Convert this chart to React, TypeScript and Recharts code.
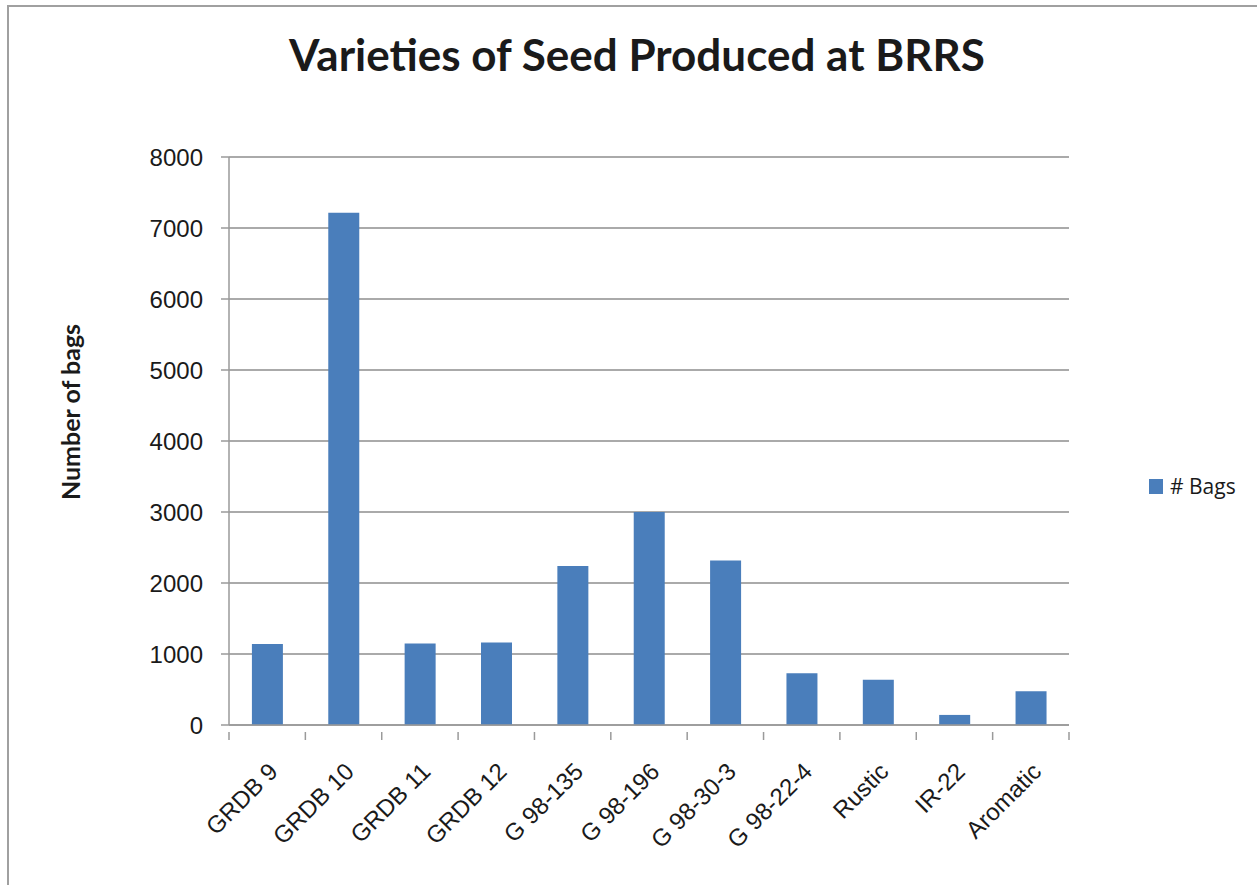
import { BarChart, Bar, XAxis, YAxis, CartesianGrid } from 'recharts';

// ── Data ──────────────────────────────────────────────────────────────────────
const VARIETIES = [
  'GRDB 9',
  'GRDB 10',
  'GRDB 11',
  'GRDB 12',
  'G 98-135',
  'G 98-196',
  'G 98-30-3',
  'G 98-22-4',
  'Rustic',
  'IR-22',
  'Aromatic',
];
const BAGS = [1140, 7215, 1148, 1162, 2238, 3000, 2318, 730, 636, 142, 476];
const Y_TICKS = [0, 1000, 2000, 3000, 4000, 5000, 6000, 7000, 8000];

const data = VARIETIES.map((name, i) => ({ name, bags: BAGS[i] }));

// ── Layout ────────────────────────────────────────────────────────────────────
const W = 1257;
const H = 885;
const PLOT_LEFT = 229;
const PLOT_RIGHT = 1069;
const PLOT_TOP = 157;
const PLOT_BOTTOM = 725;
const HALF_BAND = (PLOT_RIGHT - PLOT_LEFT) / VARIETIES.length / 2;

const BAR_COLOR = '#4a7ebb';
const GRID_COLOR = '#8e8e8e';
const AXIS_COLOR = '#9a9a9a';
const TEXT_COLOR = '#1a1a1a';

// ── Category tick: rotated label + boundary tick marks (Excel style) ─────────
function CategoryTick(props: any) {
  const { x, y, payload, index } = props;
  const isLast = index === VARIETIES.length - 1;
  const ax = x + 12;
  const ay = y + 40;
  return (
    <g>
      <line x1={x - HALF_BAND} y1={y - 1} x2={x - HALF_BAND} y2={y + 7} stroke={AXIS_COLOR} strokeWidth={1.5} />
      {isLast && (
        <line x1={x + HALF_BAND} y1={y - 1} x2={x + HALF_BAND} y2={y + 7} stroke={AXIS_COLOR} strokeWidth={1.5} />
      )}
      <text
        x={ax}
        y={ay}
        transform={`rotate(-45, ${ax}, ${ay})`}
        textAnchor="end"
        fontSize={24}
        fontFamily="'Liberation Sans', Arial, sans-serif"
        fill={TEXT_COLOR}
      >
        {payload.value}
      </text>
    </g>
  );
}

export default function App() {
  return (
    <div style={{ position: 'absolute', top: 0, left: 0, width: W, height: H, background: '#fff', overflow: 'hidden' }}>
      {/* frame */}
      <div
        style={{
          position: 'absolute',
          top: 5,
          left: 7,
          width: W + 20,
          height: H + 20,
          borderTop: '2px solid #a0a0a0',
          borderLeft: '2px solid #a0a0a0',
        }}
      />

      {/* title */}
      <div
        style={{
          position: 'absolute',
          top: 28,
          left: 0,
          width: 1274,
          textAlign: 'center',
          fontFamily: 'Lato, sans-serif',
          fontWeight: 700,
          fontSize: 44,
          color: TEXT_COLOR,
        }}
      >
        Varieties of Seed Produced at BRRS
      </div>

      {/* y axis title */}
      <div
        style={{
          position: 'absolute',
          left: 70,
          top: 412,
          transform: 'translate(-50%, -50%) rotate(-90deg)',
          whiteSpace: 'nowrap',
          fontFamily: 'Lato, sans-serif',
          fontWeight: 700,
          fontSize: 25,
          color: TEXT_COLOR,
        }}
      >
        Number of bags
      </div>

      <div style={{ position: 'absolute', top: 0, left: 0 }}>
        <BarChart
          width={W}
          height={H}
          data={data}
          margin={{ top: PLOT_TOP, right: W - PLOT_RIGHT, bottom: 0, left: 0 }}
          barCategoryGap="30%"
        >
          <CartesianGrid vertical={false} stroke={GRID_COLOR} strokeWidth={1.5} />
          <XAxis
            dataKey="name"
            interval={0}
            tickLine={false}
            axisLine={{ stroke: AXIS_COLOR, strokeWidth: 1.5 }}
            tick={<CategoryTick />}
            height={H - PLOT_BOTTOM}
          />
          <YAxis
            width={PLOT_LEFT}
            domain={[0, 8000]}
            ticks={Y_TICKS}
            interval={0}
            tickSize={8}
            tickMargin={18}
            axisLine={{ stroke: AXIS_COLOR, strokeWidth: 1.5 }}
            tickLine={{ stroke: AXIS_COLOR, strokeWidth: 1.5 }}
            tick={{ fontSize: 24, fill: TEXT_COLOR, fontFamily: "'Liberation Sans', Arial, sans-serif" }}
          />
          <Bar dataKey="bags" name="# Bags" fill={BAR_COLOR} isAnimationActive={false} />
        </BarChart>
      </div>

      {/* legend */}
      <div style={{ position: 'absolute', left: 1149, top: 472, display: 'flex', alignItems: 'center', gap: 7 }}>
        <div style={{ width: 14, height: 15, background: BAR_COLOR }} />
        <span style={{ fontSize: 21, fontFamily: "'Open Sans', sans-serif", color: TEXT_COLOR }}># Bags</span>
      </div>
    </div>
  );
}
